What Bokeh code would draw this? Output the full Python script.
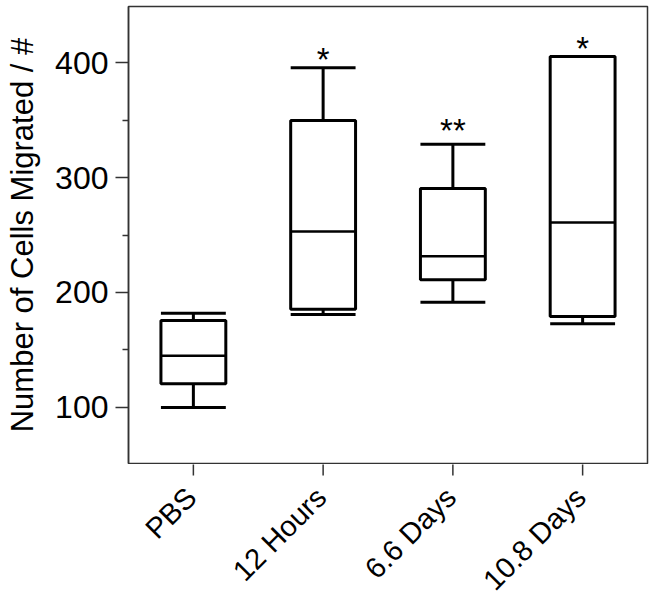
import math
from bokeh.plotting import figure
from bokeh.layouts import column
from bokeh.models import FactorRange, Range1d, FixedTicker, ColumnDataSource
from bokeh.core.properties import value
from bokeh.transform import dodge
from bokeh.embed import file_html
from bokeh.resources import INLINE

# ---- data ----
categories = ["PBS", "12 Hours", "6.6 Days", "10.8 Days"]
whisker_low = [99.7, 180.7, 191.5, 172.6]
q1 = [120.4, 185.4, 211.0, 179.0]
median = [144.8, 253.0, 231.5, 260.9]
q3 = [175.5, 349.7, 290.5, 405.5]
whisker_high = [181.9, 395.6, 329.1, 405.5]
sig_labels = ["", "*", "**", "*"]
sig_y = [0, 402.6, 340.8, 412.7]
y_ticks = [100, 200, 300, 400]
y_minor_ticks = [150, 250, 350]

FONT = "Liberation Sans"
AXIS_COLOR = "#333333"
BOX_W = 0.5
Y_START, Y_END = 51.0, 449.0
W = 654
MAIN_H = 464
LABEL_H = 134
BORDER_L, BORDER_R = 128, 7

x_range = FactorRange(factors=categories, range_padding=0)
src = ColumnDataSource(dict(cat=categories, lo=whisker_low, q1=q1, med=median,
                            q3=q3, hi=whisker_high))

# ---------------- main plot ----------------
p = figure(width=W, height=MAIN_H, output_backend="svg", toolbar_location=None,
           x_range=x_range, y_range=Range1d(Y_START, Y_END), x_axis_location=None,
           min_border_left=BORDER_L, min_border_right=BORDER_R, min_border_top=6,
           min_border_bottom=1)

p.xgrid.grid_line_color = None
p.ygrid.grid_line_color = None
p.background_fill_color = "white"
p.border_fill_color = "white"
p.outline_line_color = AXIS_COLOR
p.outline_line_width = 1.5

left = dodge("cat", -BOX_W / 2, range=x_range)
right = dodge("cat", BOX_W / 2, range=x_range)

# whiskers
p.segment(x0="cat", y0="lo", x1="cat", y1="q1", source=src, line_color="black", line_width=3)
p.segment(x0="cat", y0="q3", x1="cat", y1="hi", source=src, line_color="black", line_width=3)
# caps
p.segment(x0=left, y0="lo", x1=right, y1="lo", source=src, line_color="black", line_width=3)
p.segment(x0=left, y0="hi", x1=right, y1="hi", source=src, line_color="black", line_width=3)
# boxes
p.vbar(x="cat", width=BOX_W, top="q3", bottom="q1", source=src, fill_color="white",
       line_color="black", line_width=3)
# medians
p.segment(x0=left, y0="med", x1=right, y1="med", source=src, line_color="black",
          line_width=2.5)

# significance markers
sig_src = ColumnDataSource(dict(cat=categories, y=sig_y, t=sig_labels))
p.text(x="cat", y="y", text="t", source=sig_src, text_align="center",
       text_baseline="middle", text_font=value(FONT), text_font_size="33px",
       text_color="black")

ax = p.yaxis[0]
ax.ticker = FixedTicker(ticks=y_ticks, minor_ticks=y_minor_ticks)
ax.axis_line_color = AXIS_COLOR
ax.axis_line_width = 1.5
ax.major_tick_line_color = AXIS_COLOR
ax.major_tick_line_width = 1.5
ax.minor_tick_line_color = AXIS_COLOR
ax.minor_tick_line_width = 1.5
ax.major_tick_in = 0
ax.major_tick_out = 13
ax.minor_tick_in = 0
ax.minor_tick_out = 6
ax.major_label_text_font = FONT
ax.major_label_text_font_size = "32px"
ax.major_label_text_color = "black"
ax.major_label_standoff = 7
ax.axis_label = "Number of Cells Migrated / #"
ax.axis_label_text_font = FONT
ax.axis_label_text_font_size = "31px"
ax.axis_label_text_font_style = "normal"
ax.axis_label_text_color = "black"
ax.axis_label_standoff = 12

# ---------------- category axis strip (ticks + rotated labels) ----------------
q = figure(width=W, height=LABEL_H, output_backend="svg", toolbar_location=None,
           x_range=x_range, y_range=Range1d(0, LABEL_H),
           x_axis_location=None, y_axis_location=None,
           min_border_left=BORDER_L, min_border_right=BORDER_R, min_border_top=0,
           min_border_bottom=0)
q.xgrid.grid_line_color = None
q.ygrid.grid_line_color = None
q.outline_line_color = None
q.background_fill_color = "white"
q.border_fill_color = "white"

n = len(categories)
tick_src = ColumnDataSource(dict(cat=categories, top=[LABEL_H + 1] * n,
                                 bot=[LABEL_H - 11] * n))
q.segment(x0="cat", y0="top", x1="cat", y1="bot", source=tick_src,
          line_color=AXIS_COLOR, line_width=1.5)

lab_src = ColumnDataSource(dict(cat=categories, y=[106] * n, t=categories))
q.text(x="cat", y="y", text="t", source=lab_src, angle=math.pi / 4,
       text_align="right", text_baseline="alphabetic", x_offset=-2,
       text_font=value(FONT), text_font_size="29px", text_color="black")

layout = column(p, q, spacing=0)
open("out.html", "w").write(file_html(layout, INLINE))
